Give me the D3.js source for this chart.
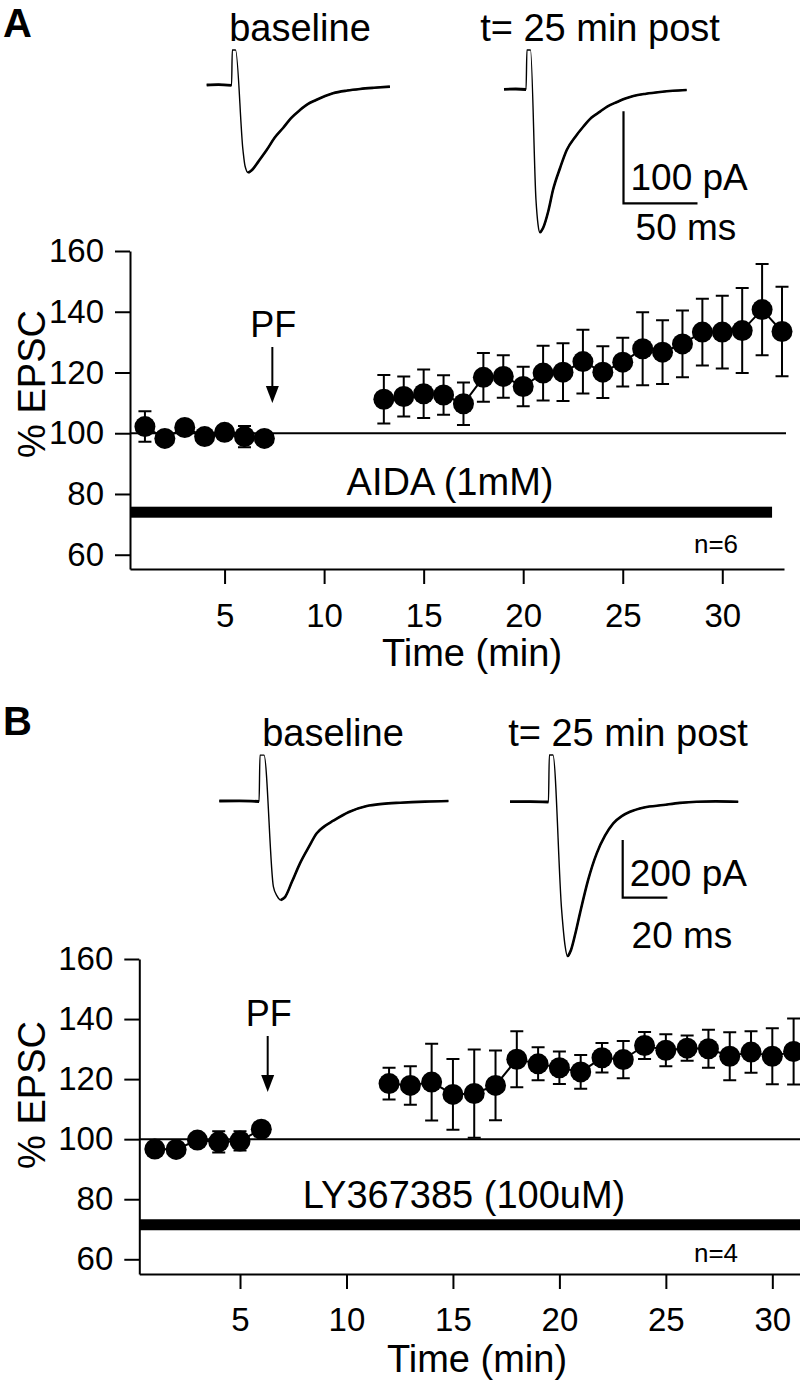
<!DOCTYPE html>
<html><head><meta charset="utf-8">
<script src="https://cdn.jsdelivr.net/npm/d3@7"></script>
<style>
html,body{margin:0;padding:0;background:#fff;}
svg{display:block;font-family:"Liberation Sans",Arial,Helvetica,sans-serif;}
</style></head>
<body>
<svg id="fig" width="800" height="1383"></svg>
<script>
// ---------- DATA ----------
// Panel A (AIDA 1mM), n=6
const timeA = [1,2,3,4,5,6,7,13,14,15,16,17,18,19,20,21,22,23,24,25,26,27,28,29,30,31,32,33];
const epscA = [102.2,98.3,101.9,98.9,100.3,98.9,98.3,111.2,112.1,113.0,112.6,109.7,118.4,118.7,115.4,119.8,120.1,123.6,120.1,123.4,127.8,126.7,129.4,133.3,133.3,133.8,140.7,133.5];
const semA  = [5,1.5,1.5,1,1,3.5,1,8,6.6,8,6.5,7,8,7,6.5,9,9.5,10.5,8.5,8,12,10.5,11,11,12,14,15,14.7];
// Panel B (LY367385 100uM), n=4
const timeB = [1,2,3,4,5,6,12,13,14,15,16,17,18,19,20,21,22,23,24,25,26,27,28,29,30,31];
const epscB = [96.7,96.6,99.7,99.1,99.4,103.3,118.5,117.9,119.0,114.9,115.2,117.9,126.6,125.1,123.8,122.4,127.1,126.5,131.2,129.6,130.3,130.1,127.6,129.0,127.6,129.2];
const semB  = [1,1,1,3.5,3.2,1,5.3,6.4,12.8,11.8,14.7,11.6,9.3,5.5,5.4,5.6,4.9,6.2,4.5,5.3,4.2,6.3,8,6.9,9.3,11];
const pfTimeA = 7.4, pfTimeB = 6.3;
const drugA = {label:"AIDA (1mM)", level:74, start:0.25, end:32.5};
const drugB = {label:"LY367385 (100uM)", level:71.5, start:0.27, end:31.4};
const yTicks = [60,80,100,120,140,160];
const xTicks = [5,10,15,20,25,30];

// Example EPSC traces: [ms, pA]
const traceA_base = [[0,0],[8,0.5],[16.8,-0.3],[17.3,38],[19.5,38],[24.5,-70.7],[25.9,-88],[28.1,-95.3],[30.6,-92.4],[35,-83],[40.5,-70.7],[46,-57],[51.6,-46.7],[57,-36],[63,-27.2],[68,-21],[73.9,-16.3],[80,-12],[85.3,-9],[95,-6],[103.6,-4.3],[113,-3],[123.8,-1.8]];
const traceA_post = [[0,0],[8,0.3],[14.9,-0.2],[15.5,42.7],[17.9,42.7],[21.6,-120],[23,-147],[24.3,-155.9],[26.4,-150.8],[30,-132],[33.1,-109.5],[38,-85],[42.4,-66],[48,-52],[53.4,-41],[59,-31],[64.9,-24.3],[70,-18.5],[76.4,-13.8],[82,-10],[87.4,-7.3],[96,-4.8],[105.4,-2.9],[114,-1.6],[123.4,-0.8]];
const traceB_base = [[0,0],[9,0.5],[17.8,-1.7],[18.2,159],[20.0,159],[24.2,-297],[25.8,-329],[27.5,-343],[29.4,-333],[32.5,-280],[36.1,-216],[40,-160],[43.6,-112],[47,-88],[51.0,-68.3],[58,-38],[66.0,-17.3],[73,-10],[80.9,-5.9],[92,-2],[102.5,0]];
const traceB_post = [[0,0],[9,0.5],[17.2,-1],[17.6,162],[19.2,162],[23.1,-375],[24.6,-497],[25.8,-537],[27.3,-514],[29.3,-455],[31.3,-387],[35,-270],[38.8,-179],[42.5,-118],[46.2,-75],[50,-50],[53.7,-35],[60,-20],[68.6,-11.4],[76,-4],[83.5,0],[92,1],[102.1,0]];
const scaleA = {pA:100, ms:50, pAlabel:"100 pA", mslabel:"50 ms"};
const scaleB = {pA:200, ms:20, pAlabel:"200 pA", mslabel:"20 ms"};

// ---------- DRAW ----------
const svg = d3.select("#fig");
svg.append("rect").attr("width",800).attr("height",1383).attr("fill","#fff");

function drawTraces(cfg){
  const g = svg.append("g");
  const tx = d3.scaleLinear().domain([0,1]).range([0,cfg.pxPerMs]);
  const ty = d3.scaleLinear().domain([0,1]).range([0,-cfg.pxPerPa]);
  cfg.traces.forEach(tr=>{
    const line = d3.line().x(d=>tr.x0+tx(d[0])).y(d=>tr.y0+ty(d[1])).curve(d3.curveMonotoneX);
    g.append("path").attr("d",line(tr.data)).attr("fill","none").attr("stroke","#000").attr("stroke-width",1.4);
    const pre = tr.data.filter(d=>d[0] < tr.data[3][0]-0.3);
    const minI = d3.minIndex(tr.data,d=>d[1]);
    const post = tr.data.slice(minI);
    g.append("path").attr("d",line(pre)).attr("fill","none").attr("stroke","#000").attr("stroke-width",2.8);
    g.append("path").attr("d",line(post)).attr("fill","none").attr("stroke","#000").attr("stroke-width",2.6);
  });
  const sb = cfg.bar;
  g.append("path")
    .attr("d",`M${sb.x},${sb.y+ty(sb.info.pA)}V${sb.y}H${sb.x+tx(sb.info.ms)}`)
    .attr("fill","none").attr("stroke","#000").attr("stroke-width",2.2);
  g.append("text").attr("x",sb.x+7).attr("y",sb.pAy).attr("font-size",37).text(sb.info.pAlabel);
  g.append("text").attr("x",sb.msx).attr("y",sb.msy).attr("font-size",37).attr("text-anchor","middle").text(sb.info.mslabel);
  cfg.titles.forEach(t=>{
    g.append("text").attr("x",t.x).attr("y",t.y).attr("font-size",38).attr("text-anchor","middle").text(t.text);
  });
  g.append("text").attr("x",cfg.letter.x).attr("y",cfg.letter.y).attr("font-size",40).attr("font-weight","bold").text(cfg.letter.text);
}

function drawPanel(cfg){
  const g = svg.append("g");
  const x = d3.scaleLinear().domain(cfg.xdom).range(cfg.xr);
  const y = d3.scaleLinear().domain(cfg.ydom).range(cfg.yr);
  const ya = g.append("g").attr("transform",`translate(${cfg.xr[0]},0)`)
    .call(d3.axisLeft(y).tickValues(yTicks).tickSize(15).tickSizeOuter(0).tickPadding(cfg.yPad));
  const xa = g.append("g").attr("transform",`translate(0,${cfg.yr[0]})`)
    .call(d3.axisBottom(x).tickValues(xTicks).tickSize(15).tickSizeOuter(0).tickPadding(cfg.xPad));
  [ya,xa].forEach(a=>{
    a.selectAll("path,line").attr("stroke","#000").attr("stroke-width",2);
    a.selectAll("text").attr("font-size",33).attr("fill","#000").attr("font-family","Liberation Sans, Arial, sans-serif");
  });
  g.append("line").attr("x1",x(cfg.xdom[0])).attr("x2",cfg.refEnd).attr("y1",y(100)).attr("y2",y(100))
    .attr("stroke","#000").attr("stroke-width",2);
  g.append("rect").attr("x",x(cfg.drug.start)).attr("width",x(cfg.drug.end)-x(cfg.drug.start))
    .attr("y",y(cfg.drug.level)-5.5).attr("height",11).attr("fill","#000");
  g.append("text").attr("x",cfg.drugLabel.x).attr("y",cfg.drugLabel.y).attr("text-anchor","middle")
    .attr("font-size",38).text(cfg.drug.label);
  g.append("text").attr("x",cfg.nLabel.x).attr("y",cfg.nLabel.y).attr("text-anchor","middle").attr("font-size",26).text(cfg.nLabel.text);
  const ax = x(cfg.pf);
  g.append("text").attr("x",ax+1).attr("y",cfg.pfY).attr("text-anchor","middle").attr("font-size",36).text("PF");
  g.append("line").attr("x1",ax).attr("x2",ax).attr("y1",cfg.pfY+10).attr("y2",cfg.pfY+55).attr("stroke","#000").attr("stroke-width",2);
  g.append("path").attr("d",`M${ax-6.5},${cfg.pfY+49}L${ax+6.5},${cfg.pfY+49}L${ax},${cfg.pfY+66}Z`).attr("fill","#000");
  g.append("text").attr("transform",`translate(${cfg.ylab.x},${cfg.ylab.y}) rotate(-90)`).attr("text-anchor","middle")
    .attr("font-size",38).text("% EPSC");
  g.append("text").attr("x",cfg.xlab.x).attr("y",cfg.xlab.y).attr("text-anchor","middle").attr("font-size",38).text("Time (min)");
  const pts = cfg.t.map((t,i)=>({t, v:cfg.v[i], e:cfg.e[i]}));
  const groups = [pts.filter(d=>d.t<10), pts.filter(d=>d.t>10)];
  const line = d3.line().x(d=>x(d.t)).y(d=>y(d.v));
  groups.forEach(gr=>g.append("path").attr("d",line(gr)).attr("fill","none").attr("stroke","#000").attr("stroke-width",2));
  const eb = g.append("g").attr("stroke","#000").attr("stroke-width",2);
  pts.forEach(d=>{
    const cx = x(d.t), y1 = y(d.v+d.e), y2 = y(d.v-d.e);
    eb.append("path").attr("fill","none").attr("d",`M${cx},${y1}V${y2}M${cx-6.5},${y1}H${cx+6.5}M${cx-6.5},${y2}H${cx+6.5}`);
  });
  g.selectAll("circle.pt").data(pts).join("circle").attr("class","pt")
    .attr("cx",d=>x(d.t)).attr("cy",d=>y(d.v)).attr("r",10.5).attr("fill","#000");
}

drawTraces({
  pxPerMs:1.48, pxPerPa:0.92,
  traces:[{data:traceA_base,x0:206.7,y0:85},{data:traceA_post,x0:504,y0:89.3}],
  bar:{x:623.5,y:203.3,info:scaleA,pAy:190,msx:686,msy:240},
  titles:[{text:"baseline",x:300,y:41},{text:"t= 25 min post",x:600,y:41}],
  letter:{text:"A",x:3,y:37}
});
drawPanel({
  xdom:[0.25,33.1], xr:[130,784], ydom:[55.3,160], yr:[569,251], yPad:11, xPad:20,
  refEnd:786, drug:drugA, drugLabel:{x:450,y:495}, nLabel:{x:716,y:553,text:"n=6"},
  pf:pfTimeA, pfY:337, ylab:{x:45,y:384}, xlab:{x:472,y:666},
  t:timeA, v:epscA, e:semA
});
drawTraces({
  pxPerMs:2.235, pxPerPa:0.2885,
  traces:[{data:traceB_base,x0:219.3,y0:801},{data:traceB_post,x0:510,y0:801.7}],
  bar:{x:622.7,y:897.7,info:scaleB,pAy:886,msx:682,msy:948},
  titles:[{text:"baseline",x:333,y:746},{text:"t= 25 min post",x:628,y:746}],
  letter:{text:"B",x:3,y:735}
});
drawPanel({
  xdom:[0.27,31.3], xr:[139.3,800], ydom:[55.1,160], yr:[1274,959], yPad:11, xPad:19,
  refEnd:800, drug:drugB, drugLabel:{x:464,y:1208}, nLabel:{x:716,y:1262,text:"n=4"},
  pf:pfTimeB, pfY:1026, ylab:{x:45,y:1095}, xlab:{x:477,y:1372},
  t:timeB, v:epscB, e:semB
});
</script>
</body></html>
